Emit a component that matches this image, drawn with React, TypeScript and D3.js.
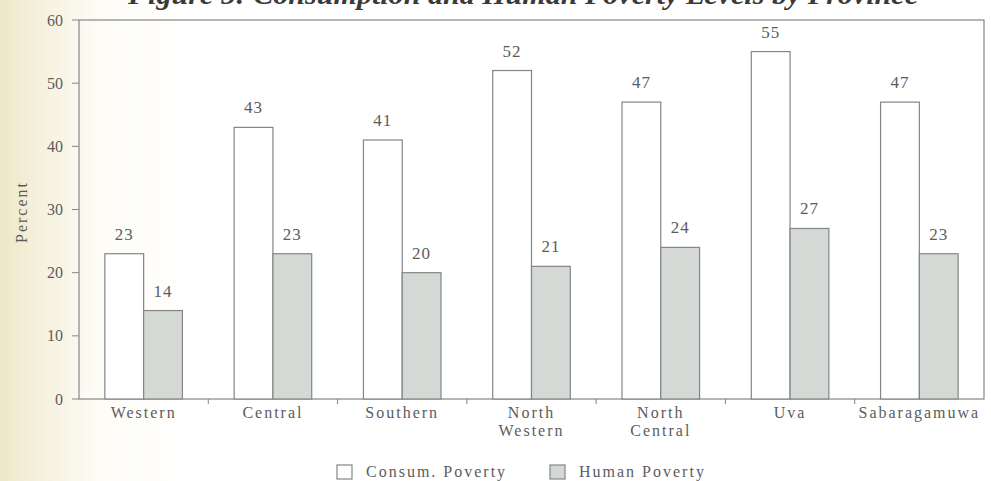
import React from "react";
import * as d3 from "d3";

const provinces = ["Western", "Central", "Southern", "North Western", "North Central", "Uva", "Sabaragamuwa"];
const provinceLines = [["Western"], ["Central"], ["Southern"], ["North", "Western"], ["North", "Central"], ["Uva"], ["Sabaragamuwa"]];
const consumPoverty = [23, 43, 41, 52, 47, 55, 47];
const humanPoverty = [14, 23, 20, 21, 24, 27, 23];
const seriesNames = ["Consum. Poverty", "Human Poverty"];
const yTicks = [0, 10, 20, 30, 40, 50, 60];

const W = 991;
const H = 481;
const plot = { left: 79, right: 984, top: 20, bottom: 399 };
const FONT = "'Liberation Serif', 'DejaVu Serif', serif";
const INK = "#5c5c5c";
const LINE = "#858585";
const FILLS = ["#ffffff", "#d5d9d5"];

export default function App() {
  const x = d3.scaleBand<string>().domain(provinces).range([plot.left, plot.right]).padding(0);
  const inner = d3
    .scaleBand<string>()
    .domain(seriesNames)
    .range([x.bandwidth() * 0.2, x.bandwidth() * 0.8])
    .padding(0);
  const y = d3.scaleLinear().domain([0, 60]).range([plot.bottom, plot.top]);
  const series = [consumPoverty, humanPoverty];

  return (
    <svg
      width={W}
      height={H}
      viewBox={`0 0 ${W} ${H}`}
      style={{ position: "fixed", left: 0, top: 0, background: "#fff" }}
      fontFamily={FONT}
    >
      <defs>
        <linearGradient id="paper" x1="0" x2="1" y1="0" y2="0">
          <stop offset="0" stopColor="#eee7c9" />
          <stop offset="0.05" stopColor="#f7f3e2" />
          <stop offset="0.1" stopColor="#fdfcf6" />
          <stop offset="0.2" stopColor="#ffffff" />
        </linearGradient>
      </defs>
      <rect x={0} y={0} width={W} height={H} fill="url(#paper)" />

      {/* title */}
      <text
        x={523}
        y={4}
        textAnchor="middle"
        fontSize={28}
        fontWeight="bold"
        fontStyle="italic"
        fill="#3a3a3a"
        textLength={790}
        lengthAdjust="spacingAndGlyphs"
      >
        Figure 5: Consumption and Human Poverty Levels by Province
      </text>

      {/* plot frame */}
      <rect
        x={plot.left}
        y={plot.top}
        width={plot.right - plot.left}
        height={plot.bottom - plot.top}
        fill="none"
        stroke={LINE}
        strokeWidth={1.2}
      />

      {/* y axis ticks and labels */}
      {yTicks.map((t) => (
        <g key={t}>
          <line x1={plot.left - 7} x2={plot.left} y1={y(t)} y2={y(t)} stroke={LINE} strokeWidth={1} />
          <text x={63} y={y(t)} dy="0.35em" textAnchor="end" fontSize={16} fill={INK}>
            {t}
          </text>
        </g>
      ))}
      <text
        transform={`translate(27, 212) rotate(-90)`}
        textAnchor="middle"
        fontSize={16}
        letterSpacing={2}
        fill={INK}
      >
        Percent
      </text>

      {/* category boundary ticks */}
      {provinces.slice(1).map((p) => (
        <line
          key={p}
          x1={x(p)!}
          x2={x(p)!}
          y1={plot.bottom}
          y2={plot.bottom + 5}
          stroke={LINE}
          strokeWidth={1}
        />
      ))}

      {/* bars with value labels */}
      {provinces.map((p, i) => (
        <g key={p} transform={`translate(${x(p)}, 0)`}>
          {series.map((vals, s) => {
            const bx = inner(seriesNames[s])!;
            const v = vals[i];
            return (
              <g key={s}>
                <rect
                  x={bx}
                  y={y(v)}
                  width={inner.bandwidth()}
                  height={plot.bottom - y(v)}
                  fill={FILLS[s]}
                  stroke={LINE}
                  strokeWidth={1.2}
                />
                <text
                  x={bx + inner.bandwidth() / 2}
                  y={y(v) - 14}
                  textAnchor="middle"
                  fontSize={17}
                  letterSpacing={1}
                  fill={INK}
                >
                  {v}
                </text>
              </g>
            );
          })}
        </g>
      ))}

      {/* category labels */}
      {provinces.map((p, i) => (
        <text
          key={p}
          x={x(p)! + x.bandwidth() / 2}
          y={plot.bottom + 19}
          textAnchor="middle"
          fontSize={16}
          letterSpacing={2}
          fill={INK}
        >
          {provinceLines[i].map((ln, k) => (
            <tspan key={k} x={x(p)! + x.bandwidth() / 2} dy={k === 0 ? 0 : 18}>
              {ln}
            </tspan>
          ))}
        </text>
      ))}

      {/* legend */}
      {seriesNames.map((name, s) => {
        const lx = s === 0 ? 337 : 550;
        return (
          <g key={name} transform={`translate(${lx}, 465)`}>
            <rect x={0} y={0} width={15} height={14} fill={FILLS[s]} stroke={LINE} strokeWidth={1.2} />
            <text x={29} y={12} fontSize={16} fill={INK} letterSpacing={2}>
              {name}
            </text>
          </g>
        );
      })}
    </svg>
  );
}
